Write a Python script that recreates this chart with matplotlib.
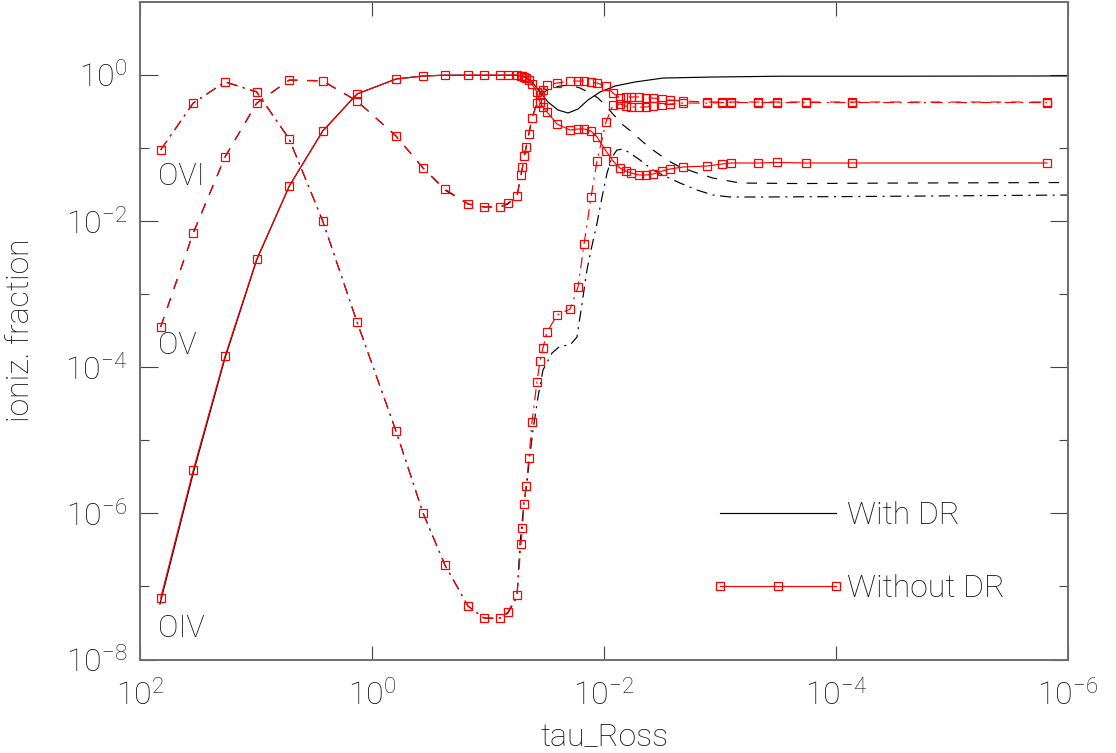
import numpy as np
import matplotlib
matplotlib.use("Agg")
import matplotlib.pyplot as plt
from matplotlib.ticker import FixedLocator, NullLocator, NullFormatter, LogFormatterMathtext
from matplotlib.lines import Line2D

plt.rcParams['font.family'] = ['Roboto', 'DejaVu Sans']
plt.rcParams['font.weight'] = 'light'
plt.rcParams['axes.labelweight'] = 'light'
plt.rcParams['mathtext.fontset'] = 'custom'
plt.rcParams['mathtext.rm'] = 'Roboto:light'
plt.rcParams['mathtext.it'] = 'Roboto:light'
plt.rcParams['mathtext.bf'] = 'Roboto:bold'
plt.rcParams['lines.scale_dashes'] = False

# ---------------- data (log10 values) ----------------
# "Without DR" model: common tau grid (markers)
log_tau_nodr = [1.822, 1.541, 1.267, 0.994, 0.713, 0.425, 0.129, -0.207, -0.440, -0.629,
                -0.828, -0.966, -1.103, -1.172, -1.250, -1.284, -1.297, -1.310, -1.328, -1.353,
                -1.379, -1.422, -1.448, -1.474, -1.509, -1.595, -1.707, -1.776, -1.828, -1.888,
                -1.940, -2.017, -2.078, -2.138, -2.190, -2.233, -2.302, -2.362, -2.422, -2.500,
                -2.569, -2.681, -2.888, -3.017, -3.095, -3.328, -3.491, -3.741, -4.138, -5.819]

log_oiv_nodr = [-7.160, -5.409, -3.850, -2.523, -1.524, -0.772, -0.265, -0.060, -0.019, -0.008,
                -0.008, -0.008, -0.008, -0.008, -0.008, -0.019, -0.019, -0.033, -0.047, -0.074,
                -0.129, -0.238, -0.375, -0.443, -0.511, -0.676, -0.758, -0.744, -0.744, -0.772,
                -0.854, -1.045, -1.182, -1.278, -1.319, -1.346, -1.373, -1.373, -1.360, -1.319,
                -1.291, -1.264, -1.250, -1.223, -1.209, -1.209, -1.202, -1.209, -1.209, -1.209]

log_ov_nodr = [-3.449, -2.163, -1.123, -0.393, -0.074, -0.083, -0.361, -0.840, -1.278, -1.565,
               -1.770, -1.811, -1.811, -1.757, -1.661, -1.373, -1.264, -1.114, -0.990, -0.813,
               -0.594, -0.389, -0.279, -0.211, -0.142, -0.115, -0.088, -0.088, -0.088, -0.101,
               -0.115, -0.156, -0.252, -0.320, -0.306, -0.306, -0.306, -0.320, -0.320, -0.334,
               -0.347, -0.361, -0.375, -0.375, -0.375, -0.375, -0.375, -0.375, -0.375, -0.375]

log_ovi_nodr = [-1.031, -0.389, -0.097, -0.234, -0.885, -1.999, -3.384, -4.876, -5.997, -6.709,
                -7.270, -7.434, -7.434, -7.352, -7.120, -6.422, -6.203, -5.875, -5.628, -5.245,
                -4.753, -4.205, -3.918, -3.740, -3.521, -3.289, -3.207, -2.906, -2.318, -1.675,
                -1.182, -0.648, -0.416, -0.402, -0.430, -0.443, -0.443, -0.443, -0.430, -0.416,
                -0.402, -0.389, -0.389, -0.382, -0.382, -0.382, -0.382, -0.382, -0.382, -0.382]

# "With DR" model (smooth curves)
log_tau_oiv_dr = [1.828, 1.541, 1.267, 0.994, 0.713, 0.425, 0.129, -0.207, -0.440, -0.629,
                  -0.828, -1.103, -1.250, -1.328, -1.379, -1.448, -1.517, -1.603, -1.690, -1.776,
                  -1.862, -1.966, -2.095, -2.267, -2.509, -2.940, -3.517, -4.552, -6.000]
log_oiv_dr = [-7.242, -5.450, -3.877, -2.536, -1.524, -0.772, -0.265, -0.060, -0.019, -0.008,
              -0.008, -0.008, -0.008, -0.033, -0.101, -0.238, -0.375, -0.484, -0.525, -0.471,
              -0.347, -0.238, -0.156, -0.101, -0.047, -0.033, -0.022, -0.022, -0.018]

log_tau_ov_dr = [1.822, 1.541, 1.267, 0.994, 0.713, 0.425, 0.129, -0.207, -0.440, -0.629,
                 -0.828, -0.966, -1.103, -1.172, -1.250, -1.293, -1.328, -1.379, -1.422, -1.474,
                 -1.534, -1.621, -1.707, -1.793, -1.879, -1.948, -2.009, -2.069, -2.164, -2.241,
                 -2.336, -2.422, -2.543, -2.655, -2.802, -2.940, -3.172, -3.690, -4.552, -6.000]
log_ov_dr = [-3.453, -2.167, -1.127, -0.389, -0.074, -0.088, -0.361, -0.840, -1.278, -1.579,
             -1.770, -1.811, -1.811, -1.770, -1.661, -1.305, -1.004, -0.594, -0.389, -0.252,
             -0.183, -0.156, -0.142, -0.183, -0.252, -0.320, -0.416, -0.525, -0.689, -0.785,
             -0.922, -1.031, -1.168, -1.264, -1.346, -1.415, -1.483, -1.490, -1.483, -1.476]

log_tau_ovi_dr = [1.822, 1.541, 1.267, 0.994, 0.713, 0.425, 0.129, -0.207, -0.440, -0.629,
                  -0.828, -0.966, -1.103, -1.172, -1.250, -1.276, -1.310, -1.336, -1.353, -1.388,
                  -1.431, -1.474, -1.552, -1.621, -1.707, -1.767, -1.793, -1.819, -1.853, -1.888,
                  -1.940, -1.983, -2.026, -2.069, -2.112, -2.164, -2.224, -2.310, -2.422, -2.543,
                  -2.655, -2.802, -2.940, -3.086, -3.371, -4.121, -6.000]
log_ovi_dr = [-1.031, -0.389, -0.101, -0.238, -0.881, -2.003, -3.384, -4.876, -5.997, -6.709,
              -7.270, -7.434, -7.434, -7.365, -7.146, -6.408, -5.861, -5.587, -5.313, -4.861,
              -4.410, -4.040, -3.808, -3.713, -3.699, -3.590, -3.316, -3.042, -2.673, -2.400,
              -2.031, -1.676, -1.348, -1.127, -1.031, -1.018, -1.073, -1.168, -1.305, -1.401,
              -1.483, -1.579, -1.647, -1.674, -1.674, -1.668, -1.647]

ion_labels = ["OVI", "OV", "OIV"]
ion_label_logy = [-1.40, -3.70, -7.57]
ion_label_logtau = 1.845
legend_labels = ["With DR", "Without DR"]
x_label = "tau_Ross"
y_label = "ioniz. fraction"

# ---------------- figure ----------------
W, H = 1116, 753
fig = plt.figure(figsize=(W / 100, H / 100), dpi=100)
ax = fig.add_axes([140 / W, 1 - 659.5 / H, 928 / W, 658 / H])

TXT = '#111111'
AXC = '#6e6e6e'
FS = 23

dash = (7.5, 7.0)
dashdot = (8.0, 4.0, 1.5, 4.0)
lw = 0.85

p = lambda a: np.power(10.0, np.asarray(a))

# With DR (black)
ax.plot(p(log_tau_oiv_dr), p(log_oiv_dr), color='black', lw=lw, zorder=2)
ax.plot(p(log_tau_ov_dr), p(log_ov_dr), color='black', lw=lw, dashes=dash, zorder=2)
ax.plot(p(log_tau_ovi_dr), p(log_ovi_dr), color='black', lw=lw, dashes=dashdot, zorder=2)

# Without DR (red, square markers)
mk = dict(marker='s', ms=6, mfc='none', mec='red', mew=0.9)
ax.plot(p(log_tau_nodr), p(log_oiv_nodr), color='red', lw=lw, zorder=3, **mk)
ax.plot(p(log_tau_nodr), p(log_ov_nodr), color='red', lw=lw, dashes=dash, zorder=3, **mk)
ax.plot(p(log_tau_nodr), p(log_ovi_nodr), color='red', lw=lw, dashes=dashdot, zorder=3, **mk)

ax.set_xscale('log')
ax.set_yscale('log')
ax.set_xlim(1e2, 1e-6)
ax.set_ylim(1e-8, 1e1)

ax.xaxis.set_major_locator(FixedLocator([1e2, 1e0, 1e-2, 1e-4, 1e-6]))
ax.xaxis.set_minor_locator(NullLocator())
ax.xaxis.set_major_formatter(LogFormatterMathtext())
ax.yaxis.set_major_locator(FixedLocator([1e-8, 1e-6, 1e-4, 1e-2, 1e0]))
ax.yaxis.set_minor_locator(FixedLocator([1e-7, 1e-5, 1e-3, 1e-1]))
ax.yaxis.set_major_formatter(LogFormatterMathtext())
ax.yaxis.set_minor_formatter(NullFormatter())

ax.tick_params(axis='x', which='major', direction='in', length=10, width=0.8,
               color='#444444', top=True, bottom=True, labelsize=FS, labelcolor=TXT, pad=14)
ax.tick_params(axis='y', which='major', direction='in', length=13, width=0.8,
               color='#444444', left=True, right=True, labelsize=FS, labelcolor=TXT, pad=9)
ax.tick_params(axis='y', which='minor', direction='in', length=6.5, width=0.8,
               color='#444444', left=True, right=True)
for s in ax.spines.values():
    s.set_color(AXC)
    s.set_linewidth(1.4)

ax.set_xlabel(x_label, fontsize=FS, color=TXT, labelpad=8)
ax.set_ylabel(y_label, fontsize=FS, color=TXT, labelpad=22)

for lab, ly in zip(ion_labels, ion_label_logy):
    ax.text(10 ** ion_label_logtau, 10 ** ly, lab, fontsize=22, color=TXT,
            ha='left', va='center')

handles = [Line2D([], [], color='black', lw=lw),
           Line2D([], [], color='red', lw=lw, marker='s', ms=6, mfc='none', mec='red', mew=0.9)]
leg = ax.legend(handles, legend_labels, loc='upper left', bbox_to_anchor=(0.6147, 0.241),
                frameon=False, numpoints=3, handlelength=4.24, handletextpad=0.05,
                labelspacing=1.38, borderpad=0, borderaxespad=0, fontsize=FS)
for t in leg.get_texts():
    t.set_color(TXT)

fig.savefig('out.png', dpi=100)
